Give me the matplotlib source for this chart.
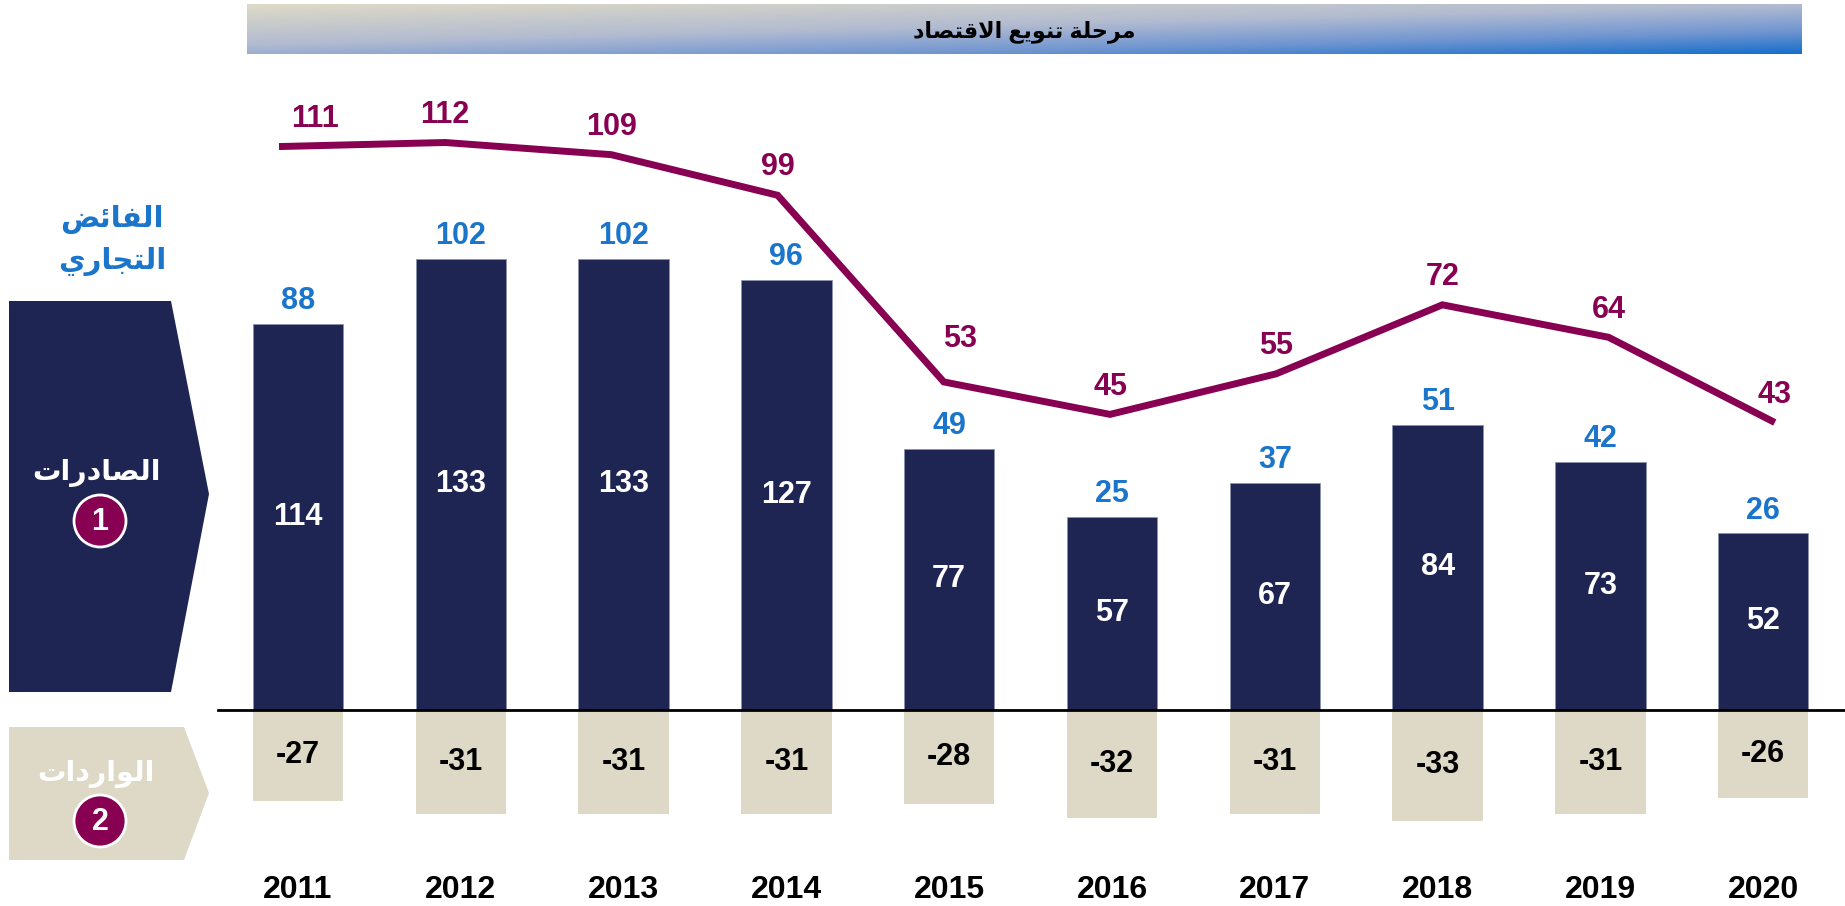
"""Exports / imports bars with the surplus on top and the Brent price line."""
import matplotlib
matplotlib.use("Agg")
import matplotlib.pyplot as plt
import numpy as np
from matplotlib.colors import LinearSegmentedColormap
from matplotlib.patches import Polygon, Circle

years = ["2011", "2012", "2013", "2014", "2015", "2016", "2017", "2018", "2019", "2020"]
exports = [114, 133, 133, 127, 77, 57, 67, 84, 73, 52]
imports = [-27, -31, -31, -31, -28, -32, -31, -33, -31, -26]
surplus = [88, 102, 102, 96, 49, 25, 37, 51, 42, 26]
brent_price = [111, 112, 109, 99, 53, 45, 55, 72, 64, 43]

title_txt = "مرحلة تنويع الاقتصاد"
surplus_txt = ["الفائض", "التجاري"]
exports_txt = "الصادرات"
imports_txt = "الواردات"

NAVY = "#1F2552"
BEIGE = "#DDD9C6"
MAROON = "#870052"
BLUE = "#1A75CB"
FONT = ["Liberation Sans", "DejaVu Sans"]
NUM_FS = 22

# (isolated, final, initial, medial) -- two entries = joins to the right only
AR_FORMS = {
    "\u0627": (0xFE8D, 0xFE8E),
    "\u0626": (0xFE89, 0xFE8A, 0xFE8B, 0xFE8C),
    "\u0629": (0xFE93, 0xFE94),
    "\u062A": (0xFE95, 0xFE96, 0xFE97, 0xFE98),
    "\u062C": (0xFE9D, 0xFE9E, 0xFE9F, 0xFEA0),
    "\u062D": (0xFEA1, 0xFEA2, 0xFEA3, 0xFEA4),
    "\u062F": (0xFEA9, 0xFEAA),
    "\u0631": (0xFEAD, 0xFEAE),
    "\u0635": (0xFEB9, 0xFEBA, 0xFEBB, 0xFEBC),
    "\u0636": (0xFEBD, 0xFEBE, 0xFEBF, 0xFEC0),
    "\u0639": (0xFEC9, 0xFECA, 0xFECB, 0xFECC),
    "\u0641": (0xFED1, 0xFED2, 0xFED3, 0xFED4),
    "\u0642": (0xFED5, 0xFED6, 0xFED7, 0xFED8),
    "\u0644": (0xFEDD, 0xFEDE, 0xFEDF, 0xFEE0),
    "\u0645": (0xFEE1, 0xFEE2, 0xFEE3, 0xFEE4),
    "\u0646": (0xFEE5, 0xFEE6, 0xFEE7, 0xFEE8),
    "\u0648": (0xFEED, 0xFEEE),
    "\u064A": (0xFEF1, 0xFEF2, 0xFEF3, 0xFEF4),
    "LA": (0xFEFB, 0xFEFC),
}


def shape_ar(text):
    """Contextual forms + right-to-left order, since matplotlib does no shaping."""
    chars, i = [], 0
    while i < len(text):
        if text[i] == "\u0644" and text[i + 1:i + 2] == "\u0627":
            chars.append("LA")
            i += 2
        else:
            chars.append(text[i])
            i += 1
    out = []
    for k, c in enumerate(chars):
        f = AR_FORMS.get(c)
        if f is None:
            out.append(c)
            continue
        prev = AR_FORMS.get(chars[k - 1]) if k > 0 else None
        nxt = AR_FORMS.get(chars[k + 1]) if k + 1 < len(chars) else None
        jp = prev is not None and len(prev) == 4
        jn = len(f) == 4 and nxt is not None
        g = f[3] if (jp and jn) else f[1] if jp else f[2] if jn else f[0]
        out.append(chr(g))
    return "".join(out)[::-1]


W, H = 1845, 906
fig = plt.figure(figsize=(W / 100, H / 100), dpi=100)
fig.patch.set_facecolor("white")

# --- header banner with diagonal gradient
bx0, bx1, by0, by1 = 247, 1802, 4, 54
bax = fig.add_axes([bx0 / W, 1 - by1 / H, (bx1 - bx0) / W, (by1 - by0) / H])
gx, gy = np.meshgrid(np.linspace(0, 1, 400), np.linspace(0, 1, 40))
grad = 0.45 * gx + 0.55 * gy
cmap = LinearSegmentedColormap.from_list(
    "banner", [(0, "#DEDAC7"), (0.45, "#B2BBD0"), (0.75, "#6F95D0"), (1, "#176FCA")])
bax.imshow(grad, cmap=cmap, aspect="auto", extent=(0, 1, 1, 0), vmin=0, vmax=1)
bax.set_axis_off()
bax.text(0.5, 0.45, shape_ar(title_txt), ha="center", va="center", fontsize=16,
         fontweight="bold", color="black", family=FONT, transform=bax.transAxes)

# --- bars (pixel anchors -> data limits)
BASE_PX, PX_PER_UNIT = 709.5, 3.385
X0_PX, STEP_PX = 298, 162.8
ax = fig.add_axes([0, 0, 1, 1], facecolor="none")
ax.set_xlim(-X0_PX / STEP_PX, (W - X0_PX) / STEP_PX)
ax.set_ylim(-(H - BASE_PX) / PX_PER_UNIT, BASE_PX / PX_PER_UNIT)
ax.set_axis_off()

x = np.arange(len(years))
ax.bar(x, exports, width=0.555, color=NAVY, edgecolor="#8C91AD", linewidth=0.6, zorder=2)
ax.bar(x, imports, width=0.555, color=BEIGE, zorder=2)
ax.axhline(0, xmin=218 / W, xmax=1, color="black", linewidth=2, zorder=3)

year_y = (BASE_PX - 890) / PX_PER_UNIT
for xi, yr, ex, im, su in zip(x, years, exports, imports, surplus):
    ax.text(xi, ex / 2, str(ex), ha="center", va="center", color="white",
            fontsize=NUM_FS, fontweight="bold", family=FONT, zorder=4)
    ax.text(xi, im / 2, str(im), ha="center", va="center", color="black",
            fontsize=NUM_FS, fontweight="bold", family=FONT, zorder=4)
    ax.annotate(str(su), (xi, ex), textcoords="offset points", xytext=(0, 16.5),
                ha="center", va="center", color=BLUE, fontsize=NUM_FS,
                fontweight="bold", family=FONT)
    ax.text(xi, year_y, yr, ha="center", va="center", color="black",
            fontsize=23, fontweight="bold", family=FONT)

# --- Brent line on its own scale
LX0_PX, LSTEP_PX = 279, 166.2
LZERO_PX, LPX_PER_UNIT = 597, 4.058
lax = fig.add_axes([0, 0, 1, 1], facecolor="none")
lax.set_xlim(-LX0_PX / LSTEP_PX, (W - LX0_PX) / LSTEP_PX)
lax.set_ylim(-(H - LZERO_PX) / LPX_PER_UNIT, LZERO_PX / LPX_PER_UNIT)
lax.set_axis_off()
lax.plot(x, brent_price, color=MAROON, linewidth=5, solid_joinstyle="miter",
         solid_capstyle="butt", zorder=5)
label_shift = {0: (26, 20), 4: (12, 31)}
for xi, v in zip(x, brent_price):
    dx, dy = label_shift.get(xi, (0, 20))
    lax.annotate(str(v), (xi, v), textcoords="offset points", xytext=(dx, dy),
                 ha="center", va="center", color=MAROON, fontsize=NUM_FS,
                 fontweight="bold", family=FONT)

# --- left-side legend shapes (pixel coords)
ov = fig.add_axes([0, 0, 1, 1], facecolor="none")
ov.set_xlim(0, W)
ov.set_ylim(H, 0)
ov.set_axis_off()
ov.add_patch(Polygon([(9, 301), (171, 301), (209, 494), (171, 692), (9, 692)],
                     closed=True, facecolor=NAVY, edgecolor="none"))
ov.add_patch(Polygon([(9, 727), (184, 727), (209, 793), (184, 860), (9, 860)],
                     closed=True, facecolor=BEIGE, edgecolor="none"))

ov.text(112, 220, shape_ar(surplus_txt[0]), ha="center", va="center", color=BLUE,
        fontsize=21, fontweight="bold", family=FONT)
ov.text(112, 261, shape_ar(surplus_txt[1]), ha="center", va="center", color=BLUE,
        fontsize=21, fontweight="bold", family=FONT)
ov.text(97, 473, shape_ar(exports_txt), ha="center", va="center", color="white",
        fontsize=20.5, fontweight="bold", family=FONT)
ov.text(96, 774, shape_ar(imports_txt), ha="center", va="center", color="white",
        fontsize=20.5, fontweight="bold", family=FONT)

for cy, num in [(521, "1"), (821, "2")]:
    ov.add_patch(Circle((100, cy), 26, facecolor=MAROON, edgecolor="white", linewidth=2))
    ov.text(100, cy + 1, num, ha="center", va="center", color="white",
            fontsize=NUM_FS, fontweight="bold", family=FONT)

fig.savefig("out.png", dpi=100, facecolor="white")
